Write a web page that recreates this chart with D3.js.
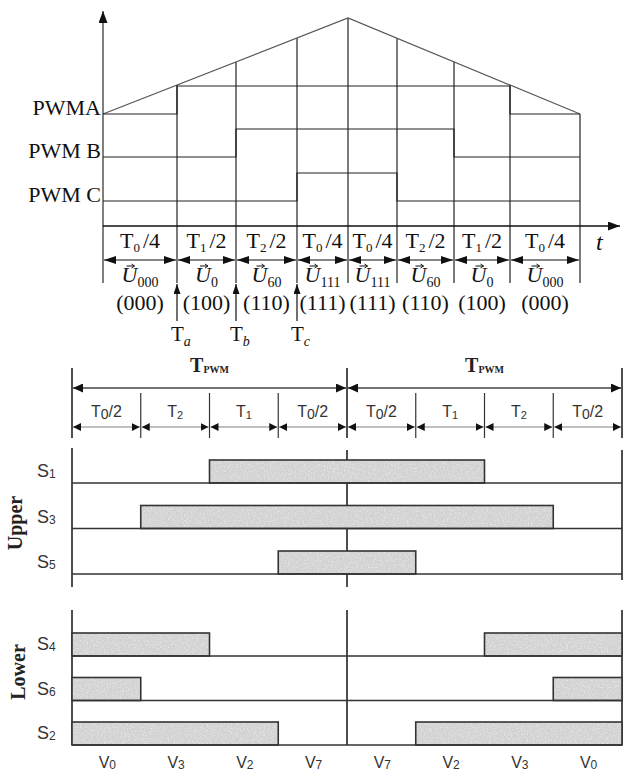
<!DOCTYPE html>
<html>
<head>
<meta charset="utf-8">
<script src="https://cdn.jsdelivr.net/npm/d3@7"></script>
<style>
body { margin: 0; background: #fff; }
</style>
</head>
<body>
<div id="chart"></div>
<script>
var svgWidth = 633;
var svgHeight = 772;

// upper figure: switching instants on the time axis and signal levels
var topEdges = [0, 74, 133, 194, 245, 294, 351, 407, 477];
var carrierT = [0, 245, 477];
var carrierLevel = [112, 208, 112];
var pwmNames = ["PWMA", "PWM B", "PWM C"];
var pwmLow = [112, 69, 25];
var pwmHigh = [140, 97, 53];
var pwmOnFrom = [1, 2, 3];
var pwmOnTo = [7, 6, 5];
var segTimeSub = ["0", "1", "2", "0", "0", "2", "1", "0"];
var segTimeDiv = ["4", "2", "2", "4", "4", "2", "2", "4"];
var segVector = ["000", "0", "60", "111", "111", "60", "0", "000"];
var segState = ["(000)", "(100)", "(110)", "(111)", "(111)", "(110)", "(100)", "(000)"];
var instantNames = ["a", "b", "c"];
var instantEdge = [1, 2, 3];

// lower figure: sectors of two PWM periods and switch states
var sectorSub = ["0", "2", "1", "0", "0", "1", "2", "0"];
var sectorSuffix = ["/2", "", "", "/2", "/2", "", "", "/2"];
var vectorSub = ["0", "3", "2", "7", "7", "2", "3", "0"];
var upperNames = ["1", "3", "5"];
var upperOn = [[[2, 6]], [[1, 7]], [[3, 5]]];
var lowerNames = ["4", "6", "2"];
var lowerOn = [[[0, 2], [6, 8]], [[0, 1], [7, 8]], [[0, 3], [5, 8]]];

var serif = "Liberation Serif, Times New Roman, serif";
var sans = "Liberation Sans, Arial, sans-serif";

var svg = d3.select("#chart")
  .append("svg")
  .attr("width", svgWidth)
  .attr("height", svgHeight);

var defs = svg.append("defs");
function addMarker(id, w, h) {
  defs.append("marker")
    .attr("id", id)
    .attr("markerUnits", "userSpaceOnUse")
    .attr("markerWidth", w)
    .attr("markerHeight", h)
    .attr("refX", w)
    .attr("refY", h / 2)
    .attr("orient", "auto-start-reverse")
    .append("path")
    .attr("d", `M0,0L${w},${h / 2}L0,${h}Z`)
    .attr("fill", "#111");
}
addMarker("arrTop", 12, 8);
addMarker("arrAxis", 12, 9);
addMarker("arrSmall", 8, 8);
addMarker("arrUp", 10, 7);
addMarker("arrPwm", 10, 9);

// speckled grey fill for the conducting intervals
var grain = defs.append("filter").attr("id", "grain")
  .attr("x", 0).attr("y", 0).attr("width", "100%").attr("height", "100%");
grain.append("feTurbulence")
  .attr("type", "fractalNoise").attr("baseFrequency", 0.7)
  .attr("numOctaves", 2).attr("seed", 4).attr("result", "noise");
grain.append("feColorMatrix")
  .attr("in", "noise").attr("type", "matrix")
  .attr("values", "0 0 0 0 0.95  0 0 0 0 0.95  0 0 0 0 0.95  1.6 0 0 0 -0.75");
var pat = defs.append("pattern").attr("id", "speckle")
  .attr("patternUnits", "userSpaceOnUse").attr("width", 640).attr("height", 780);
pat.append("rect").attr("width", 640).attr("height", 780).attr("fill", "#d2d2d2");
pat.append("rect").attr("width", 640).attr("height", 780).attr("filter", "url(#grain)");

// ================= upper figure =================
var xTop = d3.scaleLinear().domain([0, 477]).range([103, 580]);
var yTop = d3.scaleLinear().domain([0, 208]).range([226, 18]);
var carrier = d3.scaleLinear().domain(carrierT).range(carrierLevel);
var bottomLevel = -57;

var topG = svg.append("g");

// vertical boundaries at each switching instant
topG.selectAll(".edge")
  .data(topEdges.slice(1))
  .enter()
  .append("line")
  .attr("x1", d => xTop(d))
  .attr("x2", d => xTop(d))
  .attr("y1", d => yTop(carrier(d)))
  .attr("y2", yTop(bottomLevel))
  .attr("stroke", "#222")
  .attr("stroke-width", 1.2);

// axes
topG.append("line")
  .attr("x1", xTop(0)).attr("x2", xTop(0))
  .attr("y1", yTop(bottomLevel)).attr("y2", 11)
  .attr("stroke", "#555").attr("stroke-width", 1.5)
  .attr("marker-end", "url(#arrAxis)");
topG.append("line")
  .attr("x1", xTop(0)).attr("x2", 620)
  .attr("y1", yTop(0)).attr("y2", yTop(0))
  .attr("stroke", "#111").attr("stroke-width", 1.5)
  .attr("marker-end", "url(#arrAxis)");

// triangular carrier
topG.append("path")
  .datum(carrierT)
  .attr("d", d3.line().x(d => xTop(d)).y(d => yTop(carrier(d))))
  .attr("fill", "none")
  .attr("stroke", "#555")
  .attr("stroke-width", 1.2);

// PWM step signals
pwmNames.forEach(function(name, k) {
  var pts = topEdges.map(function(t, i) {
    var on = i >= pwmOnFrom[k] && i < pwmOnTo[k];
    return [t, on ? pwmHigh[k] : pwmLow[k]];
  });
  pts[pts.length - 1][1] = pts[pts.length - 2][1];
  topG.append("path")
    .attr("d", d3.line().curve(d3.curveStepAfter).x(d => xTop(d[0])).y(d => yTop(d[1]))(pts))
    .attr("fill", "none")
    .attr("stroke", "#222")
    .attr("stroke-width", 1.2);
  topG.append("text")
    .attr("x", 101)
    .attr("y", yTop(pwmLow[k]) + 1)
    .attr("text-anchor", "end")
    .attr("font-family", serif)
    .attr("font-size", "22px")
    .attr("fill", "#111")
    .text(name);
});

topG.append("text")
  .attr("x", 596).attr("y", 250)
  .attr("font-family", serif).attr("font-size", "24px").attr("font-style", "italic")
  .attr("fill", "#111")
  .text("t");

var segs = d3.range(8);
function mid(i) { return (xTop(topEdges[i]) + xTop(topEdges[i + 1])) / 2; }

// duration labels
var tl = topG.selectAll(".tl").data(segs).enter().append("text")
  .attr("x", i => mid(i)).attr("y", 248)
  .attr("text-anchor", "middle")
  .attr("font-family", serif).attr("font-size", "22px").attr("fill", "#111");
tl.append("tspan").text("T");
tl.append("tspan").attr("font-size", "13px").attr("dy", 4).text(i => segTimeSub[i]);
tl.append("tspan").attr("dy", -4).attr("dx", 3).text(i => "/" + segTimeDiv[i]);

// double arrows
topG.selectAll(".da").data(segs).enter().append("line")
  .attr("x1", i => xTop(topEdges[i]) + 1)
  .attr("x2", i => xTop(topEdges[i + 1]) - 1)
  .attr("y1", 260).attr("y2", 260)
  .attr("stroke", "#111").attr("stroke-width", 1.2)
  .attr("marker-start", "url(#arrTop)")
  .attr("marker-end", "url(#arrTop)");

// voltage vector labels
var ul = topG.selectAll(".ul").data(segs).enter().append("text")
  .attr("x", i => mid(i)).attr("y", 282)
  .attr("text-anchor", "middle")
  .attr("font-family", serif).attr("font-size", "22px").attr("fill", "#111");
ul.append("tspan").attr("font-style", "italic").text("U");
ul.append("tspan").attr("font-size", "14px").attr("dy", 5).text(i => segVector[i]);
ul.each(function() {
  var r = this.getExtentOfChar(0);
  var cx = r.x + r.width / 2 + 1;
  topG.append("path")
    .attr("d", `M${cx - 4},${r.y + 4}H${cx + 4}M${cx + 1},${r.y + 2}L${cx + 4},${r.y + 4}L${cx + 1},${r.y + 6}`)
    .attr("fill", "none").attr("stroke", "#111").attr("stroke-width", 1);
});

topG.selectAll(".st").data(segs).enter().append("text")
  .attr("x", i => mid(i)).attr("y", 310)
  .attr("text-anchor", "middle")
  .attr("font-family", serif).attr("font-size", "22px").attr("fill", "#111")
  .text(i => segState[i]);

// instants Ta, Tb, Tc
instantNames.forEach(function(n, k) {
  var x = xTop(topEdges[instantEdge[k]]);
  topG.append("line")
    .attr("x1", x).attr("x2", x).attr("y1", 321).attr("y2", 284)
    .attr("stroke", "#111").attr("stroke-width", 1.2)
    .attr("marker-end", "url(#arrUp)");
  var t = topG.append("text")
    .attr("x", x - 6).attr("y", 341)
    .attr("font-family", serif).attr("font-size", "21px").attr("fill", "#111");
  t.append("tspan").text("T");
  t.append("tspan").attr("font-size", "14px").attr("font-style", "italic").attr("dy", 5).text(n);
});

// ================= lower figure =================
var xB = d3.scaleLinear().domain([0, 8]).range([72, 622]);
var yUp = d3.scalePoint().domain(upperNames).range([483, 574]);
var yLow = d3.scalePoint().domain(lowerNames).range([656, 745]);
var barH = 23;

var bot = svg.append("g");
var frame = [[0, 368, 438], [0, 448, 587], [0, 610, 745],
             [4, 368, 438], [4, 450, 587], [4, 610, 745],
             [8, 368, 438], [8, 450, 580], [8, 610, 745]];
frame.forEach(function(f) {
  bot.append("line")
    .attr("x1", xB(f[0])).attr("x2", xB(f[0]))
    .attr("y1", f[1]).attr("y2", f[2])
    .attr("stroke", "#222").attr("stroke-width", 1.6);
});
[1, 2, 3, 5, 6, 7].forEach(function(i) {
  bot.append("line")
    .attr("x1", xB(i)).attr("x2", xB(i)).attr("y1", 393).attr("y2", 438)
    .attr("stroke", "#333").attr("stroke-width", 1.2);
});

// T_PWM spans
[[0, 4], [4, 8]].forEach(function(s) {
  bot.append("line")
    .attr("x1", xB(s[0]) + 1).attr("x2", xB(s[1]) - 1)
    .attr("y1", 388).attr("y2", 388)
    .attr("stroke", "#444").attr("stroke-width", 1.4)
    .attr("marker-start", "url(#arrPwm)")
    .attr("marker-end", "url(#arrPwm)");
  var t = bot.append("text")
    .attr("x", (xB(s[0]) + xB(s[1])) / 2).attr("y", 372)
    .attr("text-anchor", "middle")
    .attr("font-family", serif).attr("font-weight", "bold").attr("font-size", "20px").attr("fill", "#222");
  t.append("tspan").text("T");
  t.append("tspan").attr("font-size", "10px").attr("dy", 1).text("PWM");
});

// sector arrows and labels
bot.selectAll(".sa").data(segs).enter().append("line")
  .attr("x1", i => xB(i) + 1).attr("x2", i => xB(i + 1) - 1)
  .attr("y1", 427).attr("y2", 427)
  .attr("stroke", "#aaa").attr("stroke-width", 1.4)
  .attr("marker-start", "url(#arrSmall)")
  .attr("marker-end", "url(#arrSmall)");
var sl = bot.selectAll(".sl").data(segs).enter().append("text")
  .attr("x", i => xB(i + 0.5)).attr("y", 417)
  .attr("text-anchor", "middle")
  .attr("font-family", sans).attr("font-size", "16px").attr("fill", "#333");
sl.append("tspan").text("T");
sl.append("tspan").attr("font-size", i => sectorSuffix[i] ? "14px" : "11px").attr("dy", 2).text(i => sectorSub[i]);
sl.append("tspan").attr("dy", -2).text(i => sectorSuffix[i]);

// switch rows
function drawRows(names, on, yScale) {
  names.forEach(function(n, k) {
    var yb = yScale(n);
    on[k].forEach(function(r) {
      bot.append("rect")
        .attr("x", xB(r[0])).attr("y", yb - barH)
        .attr("width", xB(r[1]) - xB(r[0])).attr("height", barH)
        .attr("fill", "url(#speckle)")
        .attr("stroke", "#333").attr("stroke-width", 1.6);
    });
    bot.append("line")
      .attr("x1", xB(0)).attr("x2", xB(8)).attr("y1", yb).attr("y2", yb)
      .attr("stroke", "#333").attr("stroke-width", 1.6);
    var t = bot.append("text")
      .attr("x", 37).attr("y", yb - 6)
      .attr("font-family", sans).attr("font-size", "18px").attr("fill", "#333");
    t.append("tspan").text("S");
    t.append("tspan").attr("font-size", "12px").attr("dy", 1).text(n);
  });
}
drawRows(upperNames, upperOn, yUp);
drawRows(lowerNames, lowerOn, yLow);

bot.append("text")
  .attr("transform", "translate(22,523) rotate(-90)")
  .attr("text-anchor", "middle")
  .attr("font-family", serif).attr("font-weight", "bold").attr("font-size", "20px").attr("fill", "#222")
  .text("Upper");
bot.append("text")
  .attr("transform", "translate(25,672) rotate(-90)")
  .attr("text-anchor", "middle")
  .attr("font-family", serif).attr("font-weight", "bold").attr("font-size", "20px").attr("fill", "#222")
  .text("Lower");

// voltage vectors
var vl = bot.selectAll(".vl").data(segs).enter().append("text")
  .attr("x", i => xB(i + 0.5) + 1).attr("y", 768)
  .attr("text-anchor", "middle")
  .attr("font-family", sans).attr("font-size", "16px").attr("fill", "#333");
vl.append("tspan").text("V");
vl.append("tspan").attr("font-size", "12px").attr("dy", 1).text(i => vectorSub[i]);
</script>
</body>
</html>
